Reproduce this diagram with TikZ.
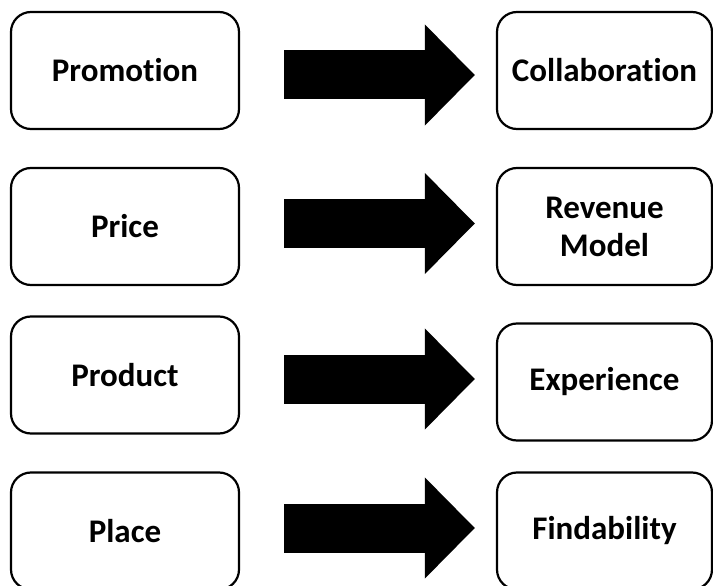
\documentclass[tikz,border=0pt]{standalone}
\usepackage{fontspec}
\setmainfont{Carlito}[Ligatures=NoCommon]
\usetikzlibrary{arrows.meta}

\begin{document}
\begin{tikzpicture}[x=1pt, y=-1pt,
    box/.style={draw, line width=2.2pt, rounded corners=20pt, minimum width=228pt,
        minimum height=117pt, align=center, font=\bfseries\fontsize{33}{38}\selectfont},
    goal/.style={box, minimum width=215pt},
    bigarrow/.style={line width=49pt, -{Triangle[width=98pt, length=50pt]}}]
    \useasboundingbox[fill=white] (0,0) rectangle (713,586);
    \node[box] (promo) at (125,70.5) {Promotion};
    \node[box] (price) at (125,226.5) {Price};
    \node[box] (prod) at (125,375) {Product};
    \node[box] (place) at (125,531) {Place};
    \node[goal] (collab) at (604.5,70.5) {Collaboration};
    \node[goal] (revmodel) at (604.5,226.5) {Revenue\\Model};
    \node[goal] (exper) at (604.5,382) {Experience};
    \node[goal] (find) at (604.5,531) {Findability};
    \foreach \a/\b/\dy in {promo/collab/4.5, price/revmodel/-3, prod/exper/4, place/find/-3}
        \draw[bigarrow] ([shift={(44,\dy)}]\a.east) -- ([shift={(-21,\dy)}]\a.east -| \b.west);
\end{tikzpicture}
\end{document}
